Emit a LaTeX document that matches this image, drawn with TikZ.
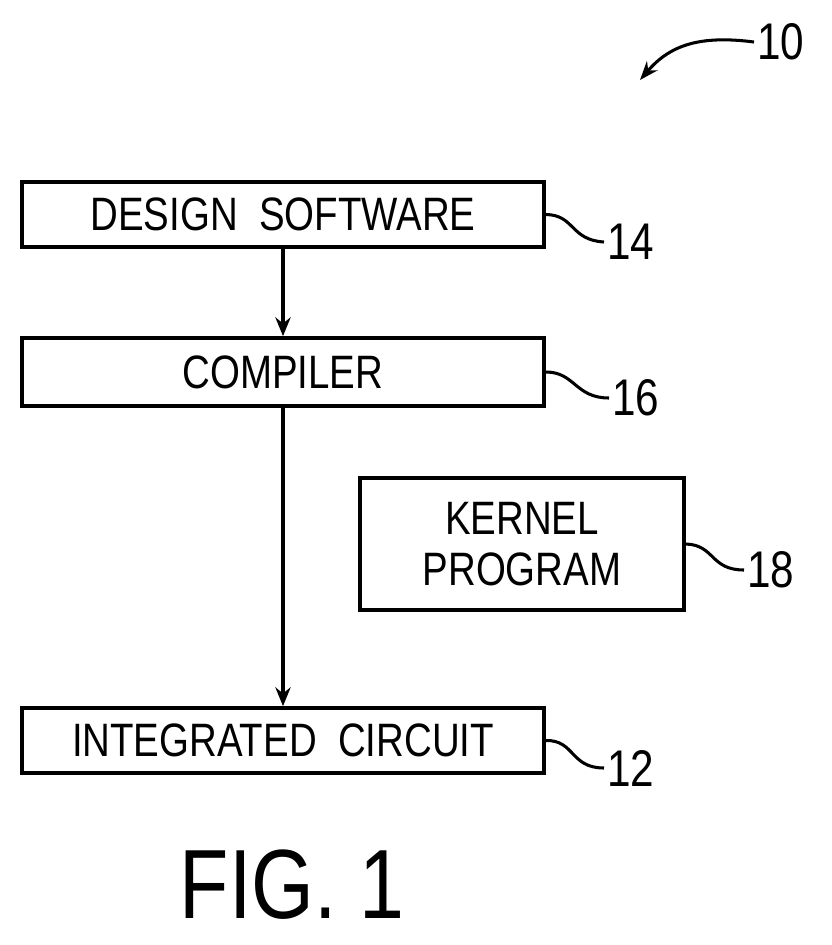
\documentclass[tikz,border=0pt]{standalone}
\usepackage{fontspec}
\setmainfont[FakeStretch=0.82]{Liberation Sans}
\usetikzlibrary{arrows.meta}
\begin{document}
\begin{tikzpicture}[x=0.03cm,y=-0.03cm,line width=3.2pt,
	box/.style={draw,rectangle,font=\fontsize{40}{44}\selectfont,align=center,inner sep=0pt},
	lbl/.style={font=\fontsize{44}{48}\selectfont,anchor=west,inner sep=1pt},
	flow/.style={-{Stealth[length=16pt,width=13pt]}}]
	\useasboundingbox (0,0) rectangle (831,945);
	\begin{scope}[every node/.style={box}]
	\node[minimum width=15.66cm, minimum height=1.95cm] (design) at (283, 214.5) {DESIGN\ \ SOFTWARE};
	\node[minimum width=15.66cm, minimum height=2.04cm] (comp)   at (283, 372)   {COMPILER};
	\node[minimum width=9.72cm,  minimum height=3.96cm] (kernel) at (522, 544)   {KERNEL\\PROGRAM};
	\node[minimum width=15.66cm, minimum height=1.95cm] (ic)     at (283, 740.5) {INTEGRATED\ \ CIRCUIT};
	\end{scope}

	\draw[flow] (design) -- (comp);
	\draw[flow] (comp) -- (ic);

	% reference numerals
	\node[lbl] (n14) at (604, 242) {14};
	\node[lbl] (n16) at (609, 398) {16};
	\node[lbl] (n18) at (744, 570) {18};
	\node[lbl] (n12) at (604, 768) {12};
	\node[lbl] (n10) at (754, 42)  {10};

	\draw[line width=2.6pt] (design.east) ++(0,0) .. controls (575,215) and (570,240) .. (n14.west);
	\draw[line width=2.6pt] (comp.east)   .. controls (575,372) and (575,398) .. (n16.west);
	\draw[line width=2.6pt] (kernel.east) .. controls (715,545) and (710,570) .. (n18.west);
	\draw[line width=2.6pt] (ic.east)     .. controls (575,740) and (570,768) .. (n12.west);
	\draw[line width=2.6pt,-{Stealth[length=16pt,width=12pt]}] (n10.west) .. controls (700,35) and (670,45) .. (640,80);

	\node[font=\fontsize{84}{90}\selectfont] (fig) at (292, 885) {FIG. 1};
\end{tikzpicture}
\end{document}
